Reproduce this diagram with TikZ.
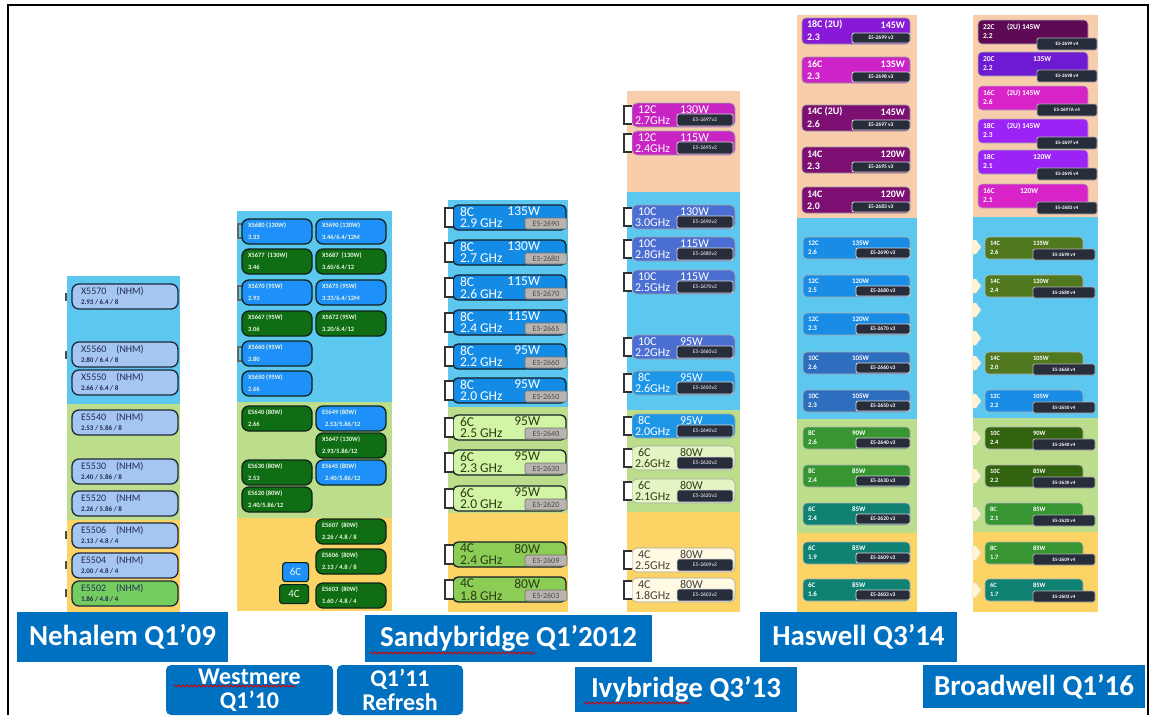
\documentclass[tikz,border=0pt]{standalone}
\usepackage{fontspec}
\setmainfont{Carlito}
\usetikzlibrary{decorations.pathmorphing}
\newcommand\fs[1]{\fontsize{#1}{#1}\selectfont}
\definecolor{bgblue}{RGB}{92,200,240}
\definecolor{bggreen}{RGB}{188,222,140}
\definecolor{bgyellow}{RGB}{252,212,102}
\definecolor{bgpeach}{RGB}{247,205,172}
\definecolor{nhfill}{RGB}{165,198,240}
\definecolor{nhline}{RGB}{30,40,60}
\definecolor{nhtext}{RGB}{35,45,85}
\definecolor{nhgreen}{RGB}{115,205,95}
\definecolor{wblue}{RGB}{30,144,250}
\definecolor{wgreen}{RGB}{15,110,20}
\definecolor{wline}{RGB}{15,35,25}
\definecolor{wtext}{RGB}{235,245,225}
\definecolor{sblue}{RGB}{20,140,230}
\definecolor{sline}{RGB}{20,30,40}
\definecolor{slgreen}{RGB}{210,245,165}
\definecolor{sgreen}{RGB}{140,205,85}
\definecolor{sdark}{RGB}{45,60,20}
\definecolor{stagc}{RGB}{185,180,175}
\definecolor{imag}{RGB}{200,35,195}
\definecolor{ipurp}{RGB}{75,110,210}
\definecolor{iblue}{RGB}{30,150,232}
\definecolor{ipale}{RGB}{228,245,195}
\definecolor{icream}{RGB}{255,250,225}
\definecolor{itagc}{RGB}{40,45,60}
\definecolor{hpurp}{RGB}{135,25,215}
\definecolor{hmag}{RGB}{205,35,200}
\definecolor{hdpurp}{RGB}{125,15,115}
\definecolor{hblue}{RGB}{25,140,230}
\definecolor{hdblue}{RGB}{45,110,190}
\definecolor{hgreen}{RGB}{55,150,50}
\definecolor{hteal}{RGB}{15,130,115}
\definecolor{bmaroon}{RGB}{95,10,85}
\definecolor{bpurp}{RGB}{110,25,210}
\definecolor{bmag}{RGB}{215,35,200}
\definecolor{bvio}{RGB}{155,35,245}
\definecolor{bolive}{RGB}{80,120,30}
\definecolor{bdgreen}{RGB}{50,100,15}
\definecolor{labblue}{RGB}{0,112,192}
\definecolor{chevc}{RGB}{255,245,210}
\tikzset{
 txt/.style={inner sep=0pt,outer sep=0pt},
 nbox/.style={rectangle,rounded corners=7pt,draw=nhline,line width=1.3pt,minimum width=106pt,minimum height=25pt,inner sep=0pt,outer sep=0pt},
 wbox/.style={rectangle,rounded corners=7pt,draw=wline,line width=1.3pt,minimum width=70pt,minimum height=25pt,inner sep=0pt,outer sep=0pt},
 sbox/.style={rectangle,rounded corners=5pt,draw=sline,line width=1.3pt,minimum width=113pt,minimum height=25pt,inner sep=0pt,outer sep=0pt},
 stag/.style={rectangle,rounded corners=2pt,fill=stagc,draw=black!55,line width=0.6pt,minimum width=42pt,minimum height=11pt,inner sep=0pt,outer sep=0pt,font=\fs{8},text=black!70},
 ibox/.style={rectangle,rounded corners=5pt,draw=black!35,line width=0.6pt,minimum width=103pt,minimum height=24pt,inner sep=0pt,outer sep=0pt},
 itag/.style={rectangle,rounded corners=2pt,fill=itagc,draw=black!15,line width=0.8pt,minimum width=56pt,minimum height=12pt,inner sep=0pt,outer sep=0pt,font=\fs{5.5},text=white},
 hbbox/.style={rectangle,rounded corners=4pt,draw=black!40,line width=0.6pt,minimum width=108pt,minimum height=26pt,inner sep=0pt,outer sep=0pt},
 hsbox/.style={rectangle,rounded corners=4pt,draw=black!30,line width=0.6pt,minimum width=107pt,minimum height=22pt,inner sep=0pt,outer sep=0pt},
 htag/.style={rectangle,rounded corners=2pt,fill=itagc,draw=black!15,line width=0.8pt,minimum height=10pt,inner sep=0pt,outer sep=0pt,font=\bfseries\fs{5.5},text=white},
 bbbox/.style={rectangle,rounded corners=4pt,draw=black!30,line width=0.6pt,minimum width=110pt,minimum height=24pt,inner sep=0pt,outer sep=0pt},
 bsbox/.style={rectangle,rounded corners=4pt,draw=black!30,line width=0.6pt,minimum width=98pt,minimum height=22pt,inner sep=0pt,outer sep=0pt},
 btag/.style={rectangle,rounded corners=2pt,fill=itagc,draw=black!30,line width=0.8pt,inner sep=0pt,outer sep=0pt,font=\bfseries\fs{5},text=white},
 brkst/.style={draw=black!80,line width=1.2pt,fill=white},
 lab/.style={rectangle,fill=labblue,text=white,font=\bfseries\fs{29},inner sep=0pt,outer sep=0pt,anchor=north west},
 squig/.style={draw=red!85!black,line width=0.8pt,decorate,decoration={snake,segment length=4pt,amplitude=1.1pt}}
}
% Nehalem
\newcommand\nhm[5]{%
 \node[nbox,fill=#3,anchor=north west] (#1) at (72,#2) {};
 \node[txt,font=\fs{10},text=nhtext,anchor=west] (#1a) at ([xshift=9pt,yshift=-8pt]#1.north west) {#4};
 \node[txt,font=\bfseries\fs{7},text=nhtext,anchor=west] (#1b) at ([xshift=9pt,yshift=-18.5pt]#1.north west) {#5};}
% Westmere
\newcommand\wsm[6]{%
 \node[wbox,fill=#4,anchor=north west] (#1) at (#2,#3) {};
 \node[txt,font=\bfseries\fs{6.5},text=wtext,anchor=west] (#1a) at ([xshift=6pt,yshift=-7pt]#1.north west) {#5};
 \node[txt,font=\bfseries\fs{6.5},text=wtext,anchor=west] (#1b) at ([xshift=6pt,yshift=-18.5pt]#1.north west) {#6};}
% bracket
\newcommand\brk[1]{\draw[brkst] ([yshift=-3pt]#1.north west) -- ++(-8,0) |- ([yshift=3pt]#1.south west);}
% Sandybridge
\newcommand\snb[8]{%
 \node[sbox,fill=#3,anchor=north west] (#1) at (453,#2) {};
 \node[txt,font=\fs{13.5},text=#4,anchor=west] (#1c) at ([xshift=7pt,yshift=-6.5pt]#1.north west) {#5};
 \node[txt,font=\fs{13.5},text=#4,anchor=east] (#1w) at ([xshift=-26pt,yshift=-6.5pt]#1.north east) {#6};
 \node[txt,font=\fs{13.5},text=#4,anchor=west] (#1g) at ([xshift=7pt,yshift=-18.5pt]#1.north west) {#7};
 \node[stag,anchor=north east] (#1t) at ([xshift=1pt,yshift=-13pt]#1.north east) {#8};
 \brk{#1}}
% Ivybridge
\newcommand\ivy[8]{%
 \node[ibox,fill=#3,anchor=north west] (#1) at (632,#2) {};
 \node[txt,font=\fs{12},text=#4,anchor=west] (#1c) at ([xshift=6pt,yshift=-6.5pt]#1.north west) {#5};
 \node[txt,font=\fs{12},text=#4,anchor=west] (#1w) at ([xshift=48pt,yshift=-6.5pt]#1.north west) {#6};
 \node[txt,font=\fs{12},text=#4,anchor=west] (#1g) at ([xshift=3pt,yshift=-17.5pt]#1.north west) {#7};
 \node[itag,anchor=north east] (#1t) at ([xshift=-2pt,yshift=-11pt]#1.north east) {#8};
 \brk{#1}}
% Haswell big
\newcommand\hwb[7]{%
 \node[hbbox,fill=#3,anchor=north west] (#1) at (802,#2) {};
 \node[txt,font=\bfseries\fs{10},text=white,anchor=west] (#1c) at ([xshift=5pt,yshift=-7pt]#1.north west) {#4};
 \node[txt,font=\bfseries\fs{10},text=white,anchor=east] (#1w) at ([xshift=-5pt,yshift=-7pt]#1.north east) {#5};
 \node[txt,font=\bfseries\fs{10},text=white,anchor=west] (#1g) at ([xshift=5pt,yshift=-19pt]#1.north west) {#6};
 \node[htag,minimum width=58pt,anchor=north east] (#1t) at ([xshift=0pt,yshift=-15pt]#1.north east) {#7};}
% Haswell small
\newcommand\hws[7]{%
 \node[hsbox,fill=#3,anchor=north west] (#1) at (803,#2) {};
 \node[txt,font=\bfseries\fs{7},text=white,anchor=west] (#1c) at ([xshift=5pt,yshift=-6pt]#1.north west) {#4};
 \node[txt,font=\bfseries\fs{7},text=white,anchor=west] (#1w) at ([xshift=49pt,yshift=-6pt]#1.north west) {#5};
 \node[txt,font=\bfseries\fs{7},text=white,anchor=west] (#1g) at ([xshift=5pt,yshift=-15.5pt]#1.north west) {#6};
 \node[htag,minimum width=54pt,anchor=north east] (#1t) at ([xshift=0pt,yshift=-11pt]#1.north east) {#7};}
% Broadwell big
\newcommand\bwb[8]{%
 \node[bbbox,fill=#3,anchor=north west] (#1) at (978,#2) {};
 \node[txt,font=\bfseries\fs{7.5},text=white,anchor=west] (#1c) at ([xshift=5pt,yshift=-7pt]#1.north west) {#4};
 \node[txt,font=\bfseries\fs{7.5},text=white,anchor=west] (#1w) at ([xshift=#6pt,yshift=-7pt]#1.north west) {#5};
 \node[txt,font=\bfseries\fs{7.5},text=white,anchor=west] (#1g) at ([xshift=5pt,yshift=-16pt]#1.north west) {#7};
 \node[btag,minimum width=60pt,minimum height=12pt,anchor=north east] (#1t) at ([xshift=9pt,yshift=-18pt]#1.north east) {#8};}
% Broadwell small
\newcommand\bws[7]{%
 \node[bsbox,fill=#3,anchor=north west] (#1) at (985,#2) {};
 \node[txt,font=\bfseries\fs{6.5},text=white,anchor=west] (#1c) at ([xshift=5pt,yshift=-6pt]#1.north west) {#4};
 \node[txt,font=\bfseries\fs{6.5},text=white,anchor=west] (#1w) at ([xshift=48pt,yshift=-6pt]#1.north west) {#5};
 \node[txt,font=\bfseries\fs{6.5},text=white,anchor=west] (#1g) at ([xshift=5pt,yshift=-15pt]#1.north west) {#6};
 \node[btag,minimum width=62pt,minimum height=11pt,anchor=north east] (#1t) at ([xshift=12pt,yshift=-12pt]#1.north east) {#7};}
\newcommand\chev[1]{\fill[chevc,draw=black!15,line width=0.4pt] (972,#1-7) -- (976,#1-7) -- (981,#1) -- (976,#1+7) -- (972,#1+7) -- cycle;}
\begin{document}
\begin{tikzpicture}[x=1pt,y=-1pt]
\useasboundingbox (0,0) rectangle (1150,715);
\fill[white] (0,0) rectangle (1150,715);
% frame
\draw[line width=1.5pt] (8,715) -- (8,5) -- (1148,5) -- (1148,715);
% ===== backgrounds =====
\fill[bgblue] (67,276) rectangle (180,404);
\fill[bggreen] (67,404) rectangle (180,520);
\fill[bgyellow] (67,520) rectangle (180,612);
\fill[bgblue] (237,211) rectangle (392,402);
\fill[bggreen] (237,402) rectangle (392,518);
\fill[bgyellow] (237,518) rectangle (392,611);
\fill[bgblue] (448,200) rectangle (568,407);
\fill[bggreen] (448,407) rectangle (568,513);
\fill[bgyellow] (448,513) rectangle (568,612);
\fill[bgpeach] (627,91) rectangle (740,192);
\fill[bgblue] (627,192) rectangle (740,410);
\fill[bggreen] (627,410) rectangle (740,512);
\fill[bgyellow] (627,512) rectangle (740,612);
\fill[bgpeach] (797,15) rectangle (917,218);
\fill[bgblue] (797,218) rectangle (917,419);
\fill[bggreen] (797,419) rectangle (917,533);
\fill[bgyellow] (797,533) rectangle (917,612);
\fill[bgpeach] (973,15) rectangle (1098,217);
\fill[bgblue] (973,217) rectangle (1098,418);
\fill[bggreen] (973,418) rectangle (1098,532);
\fill[bgyellow] (973,532) rectangle (1098,612);
% ===== Nehalem =====
\foreach \yy in {297,355,535,565,593} {\draw[black!70,line width=1.5pt] (66,\yy-4) -- (66,\yy+4);}
\nhm{n1}{284}{nhfill}{X5570\hspace{10pt}(NHM)}{2.93 / 6.4 / 8}
\nhm{n2}{342}{nhfill}{X5560\hspace{10pt}(NHM)}{2.80 / 6.4 / 8}
\nhm{n3}{370}{nhfill}{X5550\hspace{10pt}(NHM)}{2.66 / 6.4 / 8}
\nhm{n4}{410}{nhfill}{E5540\hspace{10pt}(NHM)}{2.53 / 5.86 / 8}
\nhm{n5}{459}{nhfill}{E5530\hspace{10pt}(NHM)}{2.40 / 5.86 / 8}
\nhm{n6}{491}{nhfill}{E5520\hspace{10pt}(NHM}{2.26 / 5.86 / 8}
\nhm{n7}{523}{nhfill}{E5506\hspace{10pt}(NHM)}{2.13 / 4.8 / 4}
\nhm{n8}{553}{nhfill}{E5504\hspace{10pt}(NHM)}{2.00 / 4.8 / 4}
\nhm{n9}{581}{nhgreen}{E5502\hspace{10pt}(NHM)}{1.86 / 4.8 / 4}
% ===== Westmere =====
\foreach \yy in {231,293,354} {\draw[black!60,line width=1.5pt] (242,\yy-7) -- (238,\yy-7) -- (238,\yy+7) -- (242,\yy+7);}
\wsm{w1}{242}{219}{wblue}{X5680 (130W)}{3.33}
\wsm{w2}{316}{219}{wblue}{X5690 (130W)}{3.46/6.4/12M}
\wsm{w3}{242}{249}{wgreen}{X5677\ \ (130W)}{3.46}
\wsm{w4}{316}{249}{wgreen}{X5687\ \ (130W)}{3.60/6.4/12}
\wsm{w5}{242}{280}{wblue}{X5670 (95W)}{2.93}
\wsm{w6}{316}{280}{wblue}{X5675 (95W)}{3.33/6.4/12M}
\wsm{w7}{242}{311}{wgreen}{X5667 (95W)}{3.06}
\wsm{w8}{316}{311}{wgreen}{X5672 (95W)}{3.20/6.4/12}
\wsm{w9}{242}{341}{wblue}{X5660 (95W)}{2.80}
\wsm{w10}{242}{371}{wblue}{X5650 (95W)}{2.66}
\wsm{w11}{242}{406}{wgreen}{E5640 (80W)}{2.66}
\wsm{w12}{316}{406}{wblue}{E5649 (80W)}{\hspace{3pt}2.53/5.86/12}
\wsm{w13}{316}{433}{wgreen}{X5647 (130W)}{2.93/5.86/12}
\wsm{w14}{242}{460}{wgreen}{E5630 (80W)}{2.53}
\wsm{w15}{316}{460}{wblue}{E5645 (80W)}{\hspace{3pt}2.40/5.86/12}
\wsm{w16}{242}{487}{wgreen}{E5620 (80W)}{2.40/5.86/12}
\wsm{w17}{316}{519}{wgreen}{E5607\ \ (80W)}{2.26 / 4.8 / 8}
\wsm{w18}{316}{549}{wgreen}{E5606\ \ (80W)}{2.13 / 4.8 / 8}
\wsm{w19}{316}{583}{wgreen}{E5603\ \ (80W)}{1.60 / 4.8 / 4}
\node[rectangle,rounded corners=3pt,fill=wblue,draw=wline,line width=1.2pt,minimum width=26pt,minimum height=19pt,inner sep=0pt,anchor=north west,text=wtext,font=\fs{11}] (c6) at (282,562) {6C};
\node[rectangle,rounded corners=3pt,fill=wgreen,draw=wline,line width=1.2pt,minimum width=29pt,minimum height=19pt,inner sep=0pt,anchor=north west,text=wtext,font=\fs{11}] (c4) at (279,584) {4C};
% ===== Sandybridge =====
\snb{s1}{205}{sblue}{white}{8C}{135W}{2.9 GHz}{E5-2690}
\snb{s2}{240}{sblue}{white}{8C}{130W}{2.7 GHz}{E5-2680}
\snb{s3}{275}{sblue}{white}{8C}{115W}{2.6 GHz}{E5-2670}
\snb{s4}{310}{sblue}{white}{8C}{115W}{2.4 GHz}{E5-2665}
\snb{s5}{344}{sblue}{white}{8C}{95W}{2.2 GHz}{E5-2660}
\snb{s6}{378}{sblue}{white}{8C}{95W}{2.0 GHz}{E5-2650}
\snb{s7}{415}{slgreen}{sdark}{6C}{95W}{2.5 GHz}{E5-2640}
\snb{s8}{450}{slgreen}{sdark}{6C}{95W}{2.3 GHz}{E5-2630}
\snb{s9}{486}{slgreen}{sdark}{6C}{95W}{2.0 GHz}{E5-2620}
\snb{s10}{542}{sgreen}{sdark}{4C}{80W}{2.4 GHz}{E5-2609}
\snb{s11}{577}{sgreen}{sdark}{4C}{80W}{1.8 GHz}{E5-2603}
% ===== Ivybridge =====
\ivy{i1}{103}{imag}{white}{12C}{130W}{2.7GHz}{E5-2697v2}
\ivy{i2}{131}{imag}{white}{12C}{115W}{2.4GHz}{E5-2695v2}
\ivy{i3}{205}{ipurp}{white}{10C}{130W}{3.0GHz}{E5-2690v2}
\ivy{i4}{237}{ipurp}{white}{10C}{115W}{2.8GHz}{E5-2680v2}
\ivy{i5}{270}{ipurp}{white}{10C}{115W}{2.5GHz}{E5-2670v2}
\ivy{i6}{335}{ipurp}{white}{10C}{95W}{2.2GHz}{E5-2660v2}
\ivy{i7}{371}{iblue}{white}{8C}{95W}{2.6GHz}{E5-2650v2}
\ivy{i8}{414}{iblue}{white}{8C}{95W}{2.0GHz}{E5-2640v2}
\ivy{i9}{446}{ipale}{sdark}{6C}{80W}{2.6GHz}{E5-2630v2}
\ivy{i10}{479}{ipale}{sdark}{6C}{80W}{2.1GHz}{E5-2620v2}
\ivy{i11}{548}{icream}{black!75}{4C}{80W}{2.5GHz}{E5-2609v2}
\ivy{i12}{578}{icream}{black!75}{4C}{80W}{1.8GHz}{E5-2603v2}
% ===== Haswell =====
\hwb{h1}{18}{hpurp}{18C (2U)}{145W}{2.3}{E5-2699 v3}
\hwb{h2}{57}{hmag}{16C}{135W}{2.3}{E5-2698 v3}
\hwb{h3}{105}{hdpurp}{14C (2U)}{145W}{2.6}{E5-2697 v3}
\hwb{h4}{147}{hdpurp}{14C}{120W}{2.3}{E5-2695 v3}
\hwb{h5}{187}{hdpurp}{14C}{120W}{2.0}{E5-2683 v3}
\hws{h6}{237}{hblue}{12C}{135W}{2.6}{E5-2690 v3}
\hws{h7}{275}{hblue}{12C}{120W}{2.5}{E5-2680 v3}
\hws{h8}{313}{hblue}{12C}{120W}{2.3}{E5-2670 v3}
\hws{h9}{352}{hdblue}{10C}{105W}{2.6}{E5-2660 v3}
\hws{h10}{390}{hdblue}{10C}{105W}{2.3}{E5-2650 v3}
\hws{h11}{427}{hgreen}{8C}{90W}{2.6}{E5-2640 v3}
\hws{h12}{465}{hgreen}{8C}{85W}{2.4}{E5-2630 v3}
\hws{h13}{503}{hteal}{6C}{85W}{2.4}{E5-2620 v3}
\hws{h14}{542}{hteal}{6C}{85W}{1.9}{E5-2609 v3}
\hws{h15}{579}{hteal}{6C}{85W}{1.6}{E5-2603 v3}
% ===== Broadwell =====
\foreach \yy in {247,286,310,338,363,401,438,476,514,553,590} {\chev{\yy}}
\bwb{b1}{20}{bmaroon}{22C}{(2U) 145W}{29}{2.2}{E5-2699 v4}
\bwb{b2}{52}{bpurp}{20C}{135W}{55}{2.2}{E5-2698 v4}
\bwb{b3}{86}{bmag}{16C}{(2U) 145W}{29}{2.6}{E5-2697A v4}
\bwb{b4}{119}{bvio}{18C}{(2U) 145W}{29}{2.3}{E5-2697 v4}
\bwb{b5}{150}{bvio}{18C}{120W}{55}{2.1}{E5-2695 v4}
\bwb{b6}{184}{bmag}{16C}{120W}{42}{2.1}{E5-2683 v4}
\bws{b7}{237}{bolive}{14C}{135W}{2.6}{E5-2690 v4}
\bws{b8}{275}{bolive}{14C}{120W}{2.4}{E5-2680 v4}
\bws{b9}{352}{bolive}{14C}{105W}{2.0}{E5-2660 v4}
\bws{b10}{390}{hblue}{12C}{105W}{2.2}{E5-2650 v4}
\bws{b11}{427}{bdgreen}{10C}{90W}{2.4}{E5-2640 v4}
\bws{b12}{465}{bdgreen}{10C}{85W}{2.2}{E5-2630 v4}
\bws{b13}{503}{hgreen}{8C}{85W}{2.1}{E5-2620 v4}
\bws{b14}{542}{hgreen}{8C}{85W}{1.7}{E5-2609 v4}
\bws{b15}{579}{hteal}{6C}{85W}{1.7}{E5-2603 v4}
% ===== labels =====
\node[lab,minimum width=211pt,minimum height=50pt] (lneh) at (17,612) {Nehalem Q1’09};
\node[lab,minimum width=287pt,minimum height=47pt] (lsan) at (365,615) {Sandybridge Q1’2012};
\node[lab,minimum width=197pt,minimum height=50pt] (lhas) at (760,612) {Haswell Q3’14};
\node[lab,rounded corners=5pt,minimum width=167pt,minimum height=50pt,align=center,font=\bfseries\fontsize{24}{24}\selectfont] (lwes) at (166,665) {Westmere\\Q1’10};
\node[lab,rounded corners=5pt,minimum width=126pt,minimum height=50pt,align=center,font=\bfseries\fontsize{24}{24}\selectfont] (lref) at (337,665) {Q1’11\\Refresh};
\node[lab,minimum width=222pt,minimum height=45pt] (livy) at (575,667) {Ivybridge Q3’13};
\node[lab,minimum width=222pt,minimum height=43pt] (lbro) at (923,665) {Broadwell Q1’16};
\draw[squig] (174,686) -- (296,686);
\draw[squig] (370,653) -- (535,653);
\draw[squig] (584,703) -- (690,703);
\end{tikzpicture}
\end{document}
